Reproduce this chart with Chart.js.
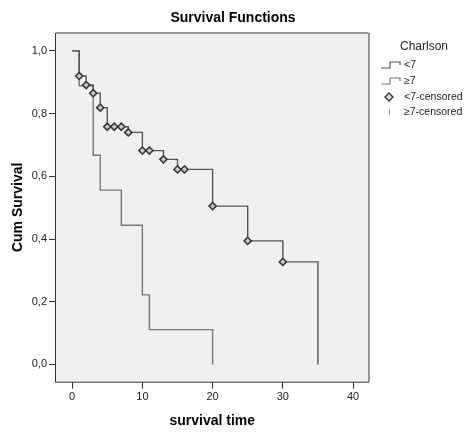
<!DOCTYPE html>
<html>
<head>
<meta charset="utf-8">
<script src="https://cdn.jsdelivr.net/npm/chart.js@4"></script>
<style>
html,body{margin:0;padding:0;background:#fff;}
#wrap{width:465px;height:432px;position:relative;}
</style>
</head>
<body>
<div id="wrap"><canvas id="c" width="465" height="432"></canvas></div>
<script>
// Kaplan-Meier step data
const timesLow = [0, 1, 2, 3, 4, 5, 8, 10, 13, 15, 20, 25, 30, 35];
const survLow  = [1.0, 0.92, 0.891, 0.865, 0.819, 0.758, 0.74, 0.682, 0.654, 0.622, 0.505, 0.394, 0.327, 0.0];
const timesHigh = [0, 1, 3, 4, 7, 10, 11, 20];
const survHigh  = [1.0, 0.889, 0.667, 0.556, 0.444, 0.222, 0.111, 0.0];
const censTimes = [1, 2, 3, 4, 5, 6, 7, 8, 10, 11, 13, 15, 16, 20, 25, 30];
const censSurv  = [0.92, 0.891, 0.865, 0.819, 0.758, 0.758, 0.758, 0.74, 0.682, 0.682, 0.654, 0.622, 0.622, 0.505, 0.394, 0.327];
const xTicks = [0, 10, 20, 30, 40];
const yTicks = [0.0, 0.2, 0.4, 0.6, 0.8, 1.0];
const legendTitle = 'Charlson';
const legendLabels = ['<7', '\u22657', '<7-censored', '\u22657-censored'];
const chartTitle = 'Survival Functions';
const xTitle = 'survival time';
const yTitle = 'Cum Survival';

const pts = (xs, ys) => xs.map((x, i) => ({x: x, y: ys[i]}));
const FONT = '"Liberation Sans", Arial, sans-serif';

const decor = {
  id: 'decor',
  beforeDraw(chart) {
    const {ctx, chartArea: a} = chart;
    ctx.save();
    ctx.fillStyle = '#f0f0f0';
    ctx.fillRect(a.left, a.top, a.right - a.left, a.bottom - a.top);
    ctx.restore();
  },
  afterDraw(chart) {
    const {ctx, chartArea: a} = chart;
    ctx.save();
    // frame
    ctx.strokeStyle = '#999';
    ctx.lineWidth = 2;
    ctx.beginPath(); ctx.moveTo(a.left, a.top); ctx.lineTo(a.right, a.top); ctx.stroke();
    ctx.strokeStyle = '#333';
    ctx.lineWidth = 1;
    ctx.beginPath();
    ctx.moveTo(a.right + 0.5, a.top); ctx.lineTo(a.right + 0.5, a.bottom + 0.5);
    ctx.lineTo(a.left - 0.5, a.bottom + 0.5); ctx.lineTo(a.left - 0.5, a.top);
    ctx.stroke();
    // titles
    ctx.fillStyle = '#000';
    ctx.textAlign = 'center';
    ctx.textBaseline = 'middle';
    ctx.font = 'bold 14px ' + FONT;
    ctx.fillText(chartTitle, 233, 18);
    ctx.font = 'bold 14px ' + FONT;
    ctx.fillText(xTitle, (a.left + a.right) / 2, 421);
    ctx.save();
    ctx.translate(18, (a.top + a.bottom) / 2);
    ctx.rotate(-Math.PI / 2);
    ctx.fillText(yTitle, 0, 0);
    ctx.restore();
    // legend
    ctx.textAlign = 'left';
    ctx.font = '12px ' + FONT;
    ctx.fillStyle = '#222';
    ctx.fillText(legendTitle, 400, 47);
    ctx.font = '10.5px ' + FONT;
    const rows = [65, 81, 97, 112];
    const colors = ['#555', '#777'];
    for (let i = 0; i < 2; i++) {
      const y = rows[i];
      ctx.strokeStyle = colors[i];
      ctx.lineWidth = 1.2;
      ctx.beginPath();
      ctx.moveTo(381, y + 3); ctx.lineTo(390, y + 3); ctx.lineTo(390, y - 3);
      ctx.lineTo(400, y - 3); ctx.lineTo(400, y);
      ctx.stroke();
    }
    // diamond
    ctx.strokeStyle = '#333'; ctx.fillStyle = '#ddd'; ctx.lineWidth = 1.3;
    ctx.beginPath();
    ctx.moveTo(389, rows[2] - 4); ctx.lineTo(393, rows[2]); ctx.lineTo(389, rows[2] + 4); ctx.lineTo(385, rows[2]);
    ctx.closePath(); ctx.fill(); ctx.stroke();
    // tick
    ctx.strokeStyle = '#999'; ctx.lineWidth = 1;
    ctx.beginPath(); ctx.moveTo(389.5, rows[3] - 3); ctx.lineTo(389.5, rows[3] + 3); ctx.stroke();
    ctx.fillStyle = '#222';
    for (let i = 0; i < 4; i++) ctx.fillText(legendLabels[i], 404, rows[i]);
    ctx.restore();
  }
};

new Chart(document.getElementById('c'), {
  type: 'line',
  data: {
    datasets: [
      {
        label: legendLabels[0],
        data: pts(timesLow, survLow),
        stepped: 'before',
        borderColor: '#555',
        borderWidth: 1.4,
        pointRadius: 0,
        fill: false,
        order: 2
      },
      {
        label: legendLabels[1],
        data: pts(timesHigh, survHigh),
        stepped: 'before',
        borderColor: '#777',
        borderWidth: 1.4,
        pointRadius: 0,
        fill: false,
        order: 3
      },
      {
        label: legendLabels[2],
        type: 'scatter',
        data: pts(censTimes, censSurv),
        showLine: false,
        pointStyle: 'rectRot',
        pointRadius: 3.6,
        pointBorderWidth: 1.5,
        pointBorderColor: '#333',
        pointBackgroundColor: '#c8c8c8',
        order: 1
      }
    ]
  },
  options: {
    responsive: false,
    animation: false,
    events: [],
    layout: {padding: {left: 0, top: 33, right: 96.5, bottom: 0}},
    plugins: {legend: {display: false}, title: {display: false}, tooltip: {enabled: false}},
    scales: {
      x: {
        type: 'linear',
        min: -2.3,
        max: 42.2,
        afterBuildTicks(s) { s.ticks = xTicks.map(v => ({value: v})); },
        afterFit(s) { s.height = 50.3; },
        grid: {drawOnChartArea: false, drawTicks: true, tickLength: 7, color: '#333', lineWidth: 1},
        border: {display: false},
        ticks: {color: '#222', font: {family: FONT, size: 11}, padding: 2, maxRotation: 0}
      },
      y: {
        type: 'linear',
        min: -0.055,
        max: 1.057,
        afterBuildTicks(s) { s.ticks = yTicks.map(v => ({value: v})); },
        afterFit(s) { s.width = 56; },
        grid: {drawOnChartArea: false, drawTicks: true, tickLength: 7, color: '#333', lineWidth: 1},
        border: {display: false},
        ticks: {
          color: '#222', font: {family: FONT, size: 11}, padding: 2,
          callback: v => v.toFixed(1).replace('.', ',')
        }
      }
    }
  },
  plugins: [decor]
});
</script>
</body>
</html>
